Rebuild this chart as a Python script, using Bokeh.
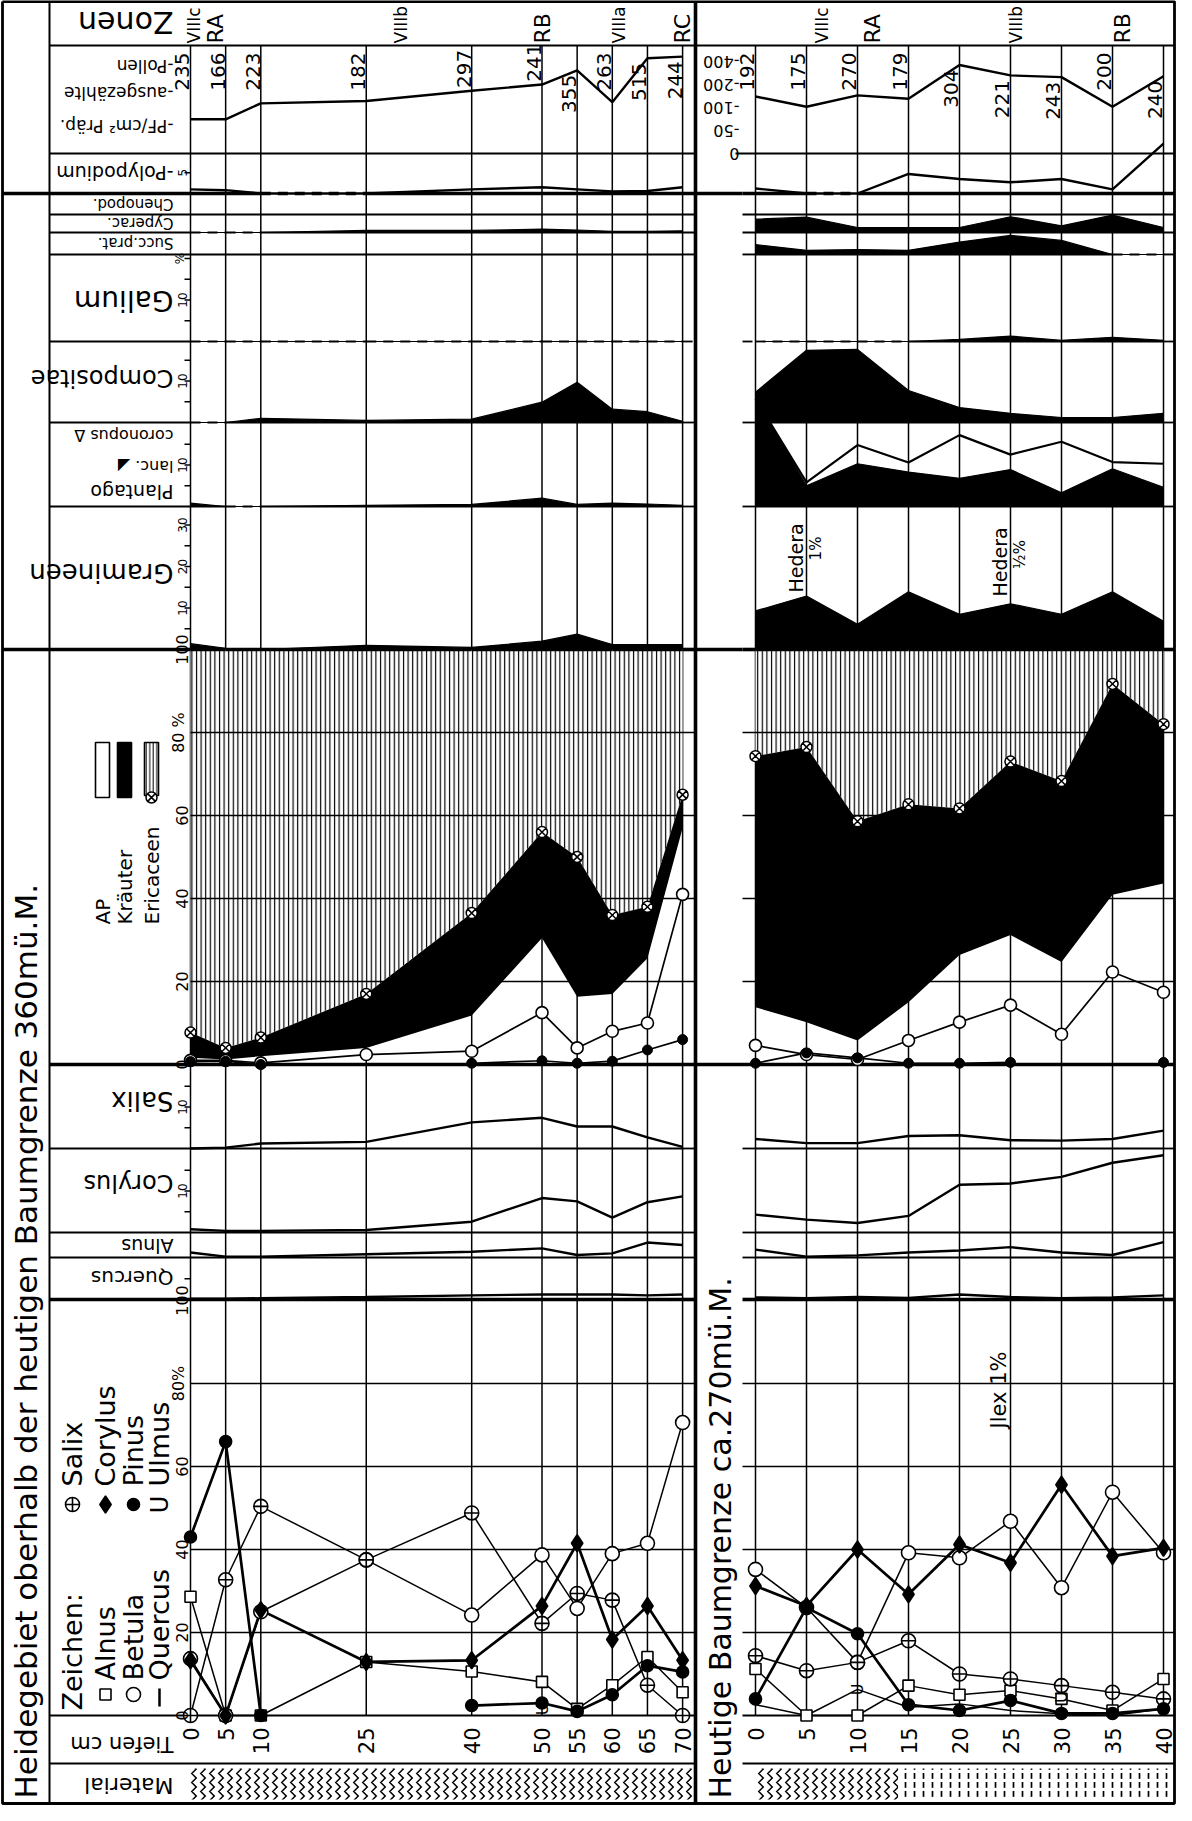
import numpy as np
from bokeh.plotting import figure
from bokeh.models import Range1d, ColumnDataSource
from bokeh.core.properties import value
from bokeh.embed import file_html
from bokeh.resources import INLINE

nan = float("nan")

# ====================== DATA ======================
depth_L = [0, 5, 10, 25, 40, 50, 55, 60, 65, 70]
depth_R = [0, 5, 10, 15, 20, 25, 30, 35, 40]

zone_L = ["VIIIc", "RA", "VIIIb", "RB", "VIIIa", "RC"]
zone_L_depth = [0.5, 3.5, 30.0, 50.0, 61.0, 70.0]
zone_R = ["VIIIc", "RA", "VIIIb", "RB"]
zone_R_depth = [6.5, 11.5, 25.5, 36.0]

count_L = [235, 166, 223, 182, 297, 241, 355, 263, 515, 244]
count_R = [192, 175, 270, 179, 304, 221, 243, 200, 240]

pf_L = [75, 75, 120, 130, 175, 205, 330, 125, 470, 500]
pf_R = [150, 105, 155, 140, 376, 285, 270, 105, 277]
pf_ticks = [0, 50, 100, 200, 400, 800]
pf_tick_labels = ["0", "-50", "-100", "-200", "-400"]

polypodium_L = [1.0, 0.8, 0.0, 0.0, 1.0, 1.5, 1.0, 0.5, 0.6, 1.5]
polypodium_R = [1.2, 0.0, 0.0, 4.7, 3.5, 2.7, 3.5, 1.0, 12.0]
cyperac_L = [0.0, 0.0, 0.0, 0.5, 0.5, 0.8, 0.6, 0.3, 0.3, 0.4]
cyperac_R = [3.2, 3.7, 1.2, 1.2, 1.2, 3.8, 1.6, 4.2, 1.2]
succ_R = [2.4, 1.0, 1.2, 1.0, 3.0, 4.6, 3.4, 0.0, 0.0]
galium_L = [0, 0, 0, 0, 0, 0, 0, 0, 0, 0]
galium_R = [0.0, 0.0, 0.0, 0.0, 0.5, 1.3, 0.3, 1.0, 0.3]
compositae_L = [0.0, 0.0, 1.0, 0.5, 0.8, 4.9, 9.7, 3.2, 2.6, 0.3]
compositae_R = [7.3, 17.4, 17.6, 7.7, 3.6, 2.2, 1.2, 1.2, 2.2]
lanc_L = [0.8, 0.0, 0.0, 0.3, 0.5, 2.0, 0.5, 0.8, 0.6, 0.3]
lanc_R = [26.0, 5.0, 10.3, 8.3, 6.8, 8.9, 3.3, 9.1, 4.6]
coronopus_R = [0.0, 0.8, 4.5, 2.3, 10.4, 3.6, 12.3, 1.6, 5.7]
gramineen_L = [1.4, 0.3, 0.0, 1.0, 0.5, 2.0, 3.7, 1.2, 1.2, 1.2]
gramineen_R = [9.3, 12.9, 6.1, 13.9, 8.5, 11.0, 8.5, 13.9, 6.8]

ap_L = [1.6, 1.2, 2.0, 4.0, 11.8, 30.5, 16.3, 17.0, 25.6, 57.0]
kraeuter_L = [6.1, 2.8, 4.5, 13.0, 24.7, 25.5, 33.7, 19.0, 12.4, 8.0]
ap_R = [13.8, 10.2, 5.8, 15.0, 26.4, 31.2, 24.7, 40.9, 43.6]
kraeuter_R = [60.5, 66.3, 52.8, 47.7, 35.3, 41.8, 43.6, 50.8, 38.4]
betula_total_L = [1.0, 1.0, 0.4, 2.4, 3.2, 12.5, 4.0, 8.0, 10.0, 41.0]
pinus_total_L = [0.7, 0.8, 0.0, nan, 0.3, 0.9, 0.3, 0.8, 3.5, 6.0]
betula_total_R = [4.6, 2.4, 1.2, 5.8, 10.2, 14.3, 7.3, 22.3, 17.4]
pinus_total_R = [0.3, 2.8, 1.6, 0.3, 0.3, 0.5, nan, nan, 0.5]

salix_total_L = [0.0, 0.2, 1.2, 1.6, 6.3, 7.4, 5.3, 5.3, 2.7, 0.4]
corylus_total_L = [0.8, 0.4, 0.4, 0.6, 2.6, 8.3, 7.5, 3.6, 7.3, 8.7]
alnus_total_L = [1.2, 0.2, 0.2, 0.8, 1.4, 2.2, 0.6, 1.0, 3.6, 3.0]
quercus_total_L = [0.2, 0.2, 0.3, 0.6, 1.0, 1.2, 1.2, 1.2, 1.0, 1.2]
salix_total_R = [2.3, 1.3, 1.3, 3.0, 3.2, 2.0, 1.9, 2.3, 4.3]
corylus_total_R = [4.3, 3.1, 2.3, 4.0, 11.5, 11.8, 13.4, 16.8, 18.6]
alnus_total_R = [1.9, 0.2, 0.5, 1.2, 1.7, 2.5, 1.2, 0.6, 3.7]
quercus_total_R = [0.5, 0.3, 0.6, 0.4, 1.2, 0.6, 0.3, 0.5, 1.0]

alnus_L = [28.6, 0.0, 0.0, 12.9, 10.6, 8.1, 1.6, 7.3, 14.1, 5.6]
betula_L = [13.7, 0.0, 25.0, 37.5, 24.2, 38.7, 25.8, 39.0, 41.5, 70.6]
salix_L = [0.0, 32.7, 50.4, 37.5, 48.8, 22.2, 29.4, 27.8, 7.3, 0.0]
corylus_L = [13.3, 0.0, 25.4, 12.9, 13.3, 26.4, 41.5, 18.3, 26.4, 13.3]
pinus_L = [43.0, 66.0, 0.0, nan, 2.4, 3.0, 1.0, 5.0, 12.0, 10.5]
ulmus_L = [nan, nan, nan, nan, nan, 1.5, nan, nan, nan, nan]

alnus_R = [11.2, 0.0, 0.0, 7.2, 5.0, 6.0, 4.0, 1.2, 8.8]
betula_R = [35.2, 26.0, 12.8, 39.2, 38.0, 46.8, 30.8, 53.8, 39.2]
quercus_R = [2.6, 0.0, 6.3, 2.0, 2.8, 1.2, 0.4, 0.0, 1.6]
salix_R = [14.4, 10.8, 12.8, 18.0, 10.0, 8.8, 7.2, 5.6, 4.0]
corylus_R = [31.2, 26.4, 40.0, 29.2, 41.2, 36.8, 55.6, 38.4, 40.4]
pinus_R = [4.0, 26.0, 19.7, 2.6, 1.2, 3.6, 0.5, 0.5, 1.6]
ulmus_R = [nan, nan, 6.3, nan, nan, nan, 4.4, nan, nan]

material_change_R = 14.0

ap_ticks = [0, 20, 40, 60, 80, 100]
ap_tick_labels = ["0", "20", "40", "60", "80 %", "100"]
tree_tick_labels = ["0", "20", "40", "60", "80%", "100"]

# ====================== LAYOUT (page pixels) ======================
W, H = 1176, 1805
XL, XRt = 8, 8 + W
YT, YB = 8, 8 + H
X_BL, X_BR = 10, 1182
Y_BT, Y_BB = 9, 1811
X_STRIP = 57
X_DIV = 703
X_RLAB = 750
X0 = {"L": 198.0, "R": 763.0}
KX = {"L": 7.03, "R": 10.2}
K = 4.15
Y_ZON = 53
Y_DROW = 1771
ROWS = {"pf": (161, 22.8), "poly": (201, K), "chen": (222, K), "cyp": (240, K),
        "succ": (262, K), "gal": (349, K), "comp": (430, K), "plan": (514, K),
        "gram": (657, K), "ap": (1072, K), "sal": (1156, K), "cor": (1240, K),
        "aln": (1265, K), "que": (1307, K), "tree": (1723, K)}
FONT = "DejaVu Sans"
LW = 1.5

p = figure(width=W, height=H, x_range=Range1d(XL, XRt), y_range=Range1d(YB, YT),
           x_axis_location=None, y_axis_location=None, toolbar_location=None,
           output_backend="svg", min_border=0, outline_line_color=None,
           background_fill_color="white", border_fill_color="white")
p.grid.visible = False


def xr(x0, k):
    return Range1d((XL - x0) / k, (XRt - x0) / k)


p.extra_x_ranges = {s: xr(X0[s], KX[s]) for s in ("L", "R")}
p.extra_y_ranges = {n: Range1d((yb - YB) / k, (yb - YT) / k) for n, (yb, k) in ROWS.items()}


def dpx(side, X):
    return (X - X0[side]) / KX[side]


EXT = {"L": (dpx("L", X_STRIP), dpx("L", X_DIV)), "R": (dpx("R", X_RLAB), dpx("R", X_BR))}
DEP = {"L": depth_L, "R": depth_R}


def T(x, y, t, size, angle=0.0, align="center", baseline="middle", xname="default", yname="default"):
    n = len(t)
    sizes = size if isinstance(size, (list, tuple)) else [size] * n
    src = ColumnDataSource(dict(x=list(x), y=list(y), t=[str(s) for s in t],
                                s=["%dpx" % s for s in sizes]))
    p.text(x="x", y="y", text="t", text_font_size="s", source=src, angle=angle,
           text_align=align, text_baseline=baseline, text_font=value(FONT),
           text_color="black", x_range_name=xname, y_range_name=yname)


def A(v):
    return np.array(v, dtype=float)


UP = np.pi / 2
FLIP = np.pi

# ---------------- material row ----------------
p.quad(left=[depth_L[0]], right=[EXT["L"][1] - 0.3], top=[Y_DROW + 5], bottom=[Y_BB - 4],
       x_range_name="L", fill_color="white", line_color=None, hatch_pattern="vertical_wave",
       hatch_scale=9, hatch_weight=1.5, hatch_color="black")
p.quad(left=[depth_R[0]], right=[material_change_R], top=[Y_DROW + 5], bottom=[Y_BB - 4],
       x_range_name="R", fill_color="white", line_color=None, hatch_pattern="vertical_wave",
       hatch_scale=9, hatch_weight=1.5, hatch_color="black")
p.quad(left=[material_change_R], right=[EXT["R"][1] - 0.3], top=[Y_DROW + 5], bottom=[Y_BB - 4],
       x_range_name="R", fill_color="white", line_color=None, hatch_pattern="vertical_dash",
       hatch_scale=9, hatch_weight=1.7, hatch_color="black")

# ---------------- depth lines ----------------
for s in ("L", "R"):
    d = DEP[s]
    p.segment(x0=d, y0=Y_ZON, x1=d, y1=ROWS["tree"][0], x_range_name=s,
              line_color="black", line_width=LW)

# ---------------- AP / Kräuter / Ericaceen ----------------
AP = {"L": (ap_L, kraeuter_L, betula_total_L, pinus_total_L),
      "R": (ap_R, kraeuter_R, betula_total_R, pinus_total_R)}
GRID_X = {"L": (X0["L"], X_DIV), "R": (X_RLAB, X_BR)}
for s in ("L", "R"):
    ap, kr, bt, pt = AP[s]
    d = A(DEP[s])
    top = A(ap) + A(kr)
    p.varea(x=d, y1=top, y2=np.full(len(d), 100.0), x_range_name=s, y_range_name="ap",
            fill_color="white", hatch_pattern="vertical_line", hatch_scale=4.6,
            hatch_weight=1.2, hatch_color="black")
for s in ("L", "R"):
    g = ap_ticks[1:-1]
    x0, x1 = GRID_X[s]
    p.segment(x0=[x0] * len(g), y0=g, x1=[x1] * len(g), y1=g, y_range_name="ap",
              line_color="black", line_width=1.4)
    p.segment(x0=[x0] * len(g), y0=g, x1=[x1] * len(g), y1=g, y_range_name="tree",
              line_color="black", line_width=1.4)
for s in ("L", "R"):
    ap, kr, bt, pt = AP[s]
    d = A(DEP[s])
    top = A(ap) + A(kr)
    p.varea(x=d, y1=A(ap), y2=top, x_range_name=s, y_range_name="ap", fill_color="black")

# ---------------- small taxa rows ----------------
FILLED = [("cyp", cyperac_L, cyperac_R), ("succ", None, succ_R), ("gal", galium_L, galium_R),
          ("comp", compositae_L, compositae_R), ("plan", lanc_L, lanc_R),
          ("gram", gramineen_L, gramineen_R)]
LINES = [("poly", polypodium_L, polypodium_R), ("sal", salix_total_L, salix_total_R),
         ("cor", corylus_total_L, corylus_total_R), ("aln", alnus_total_L, alnus_total_R),
         ("que", quercus_total_L, quercus_total_R)]

for name, vl, vr in FILLED:
    for s, v in (("L", vl), ("R", vr)):
        if v is None:
            continue
        d = A(DEP[s])
        p.varea(x=d, y1=np.zeros(len(d)), y2=A(v), x_range_name=s, y_range_name=name,
                fill_color="black")
        p.line(d, A(v), x_range_name=s, y_range_name=name, line_color="black", line_width=1.2)

# coronopus (stacked on lanceolata)
d = A(depth_R)
p.line(d, A(lanc_R) + A(coronopus_R), x_range_name="R", y_range_name="plan",
       line_color="black", line_width=2.2)

for name, vl, vr in LINES:
    for s, v in (("L", vl), ("R", vr)):
        p.line(A(DEP[s]), A(v), x_range_name=s, y_range_name=name, line_color="black",
               line_width=2.4)

# pollen frequency curve (stepped scale 0-50-100-200-400)
PFI = np.arange(len(pf_ticks), dtype=float)
for s, v in (("L", pf_L), ("R", pf_R)):
    idx = np.interp(A(v), A(pf_ticks), PFI)
    p.line(A(DEP[s]), idx, x_range_name=s, y_range_name="pf", line_color="black", line_width=2.4)

# ---------------- baselines ----------------
THICK = {"poly": 3.4, "gram": 3.6, "que": 3.6}


def baseline(side, name, vals):
    dd = list(DEP[side])
    lo, hi = EXT[side]
    xs0 = [lo] + dd
    xs1 = dd + [hi]
    if vals is None:
        styles = ["solid"] * len(xs0)
    else:
        seg = ["dashed" if (vals[i] == 0 and vals[i + 1] == 0) else "solid"
               for i in range(len(dd) - 1)]
        styles = [("solid" if side == "L" else seg[0])] + seg + [seg[-1]]
    w = THICK.get(name, 1.8)
    for st in ("solid", "dashed"):
        ii = [i for i, sv in enumerate(styles) if sv == st]
        if not ii:
            continue
        p.segment(x0=[xs0[i] for i in ii], y0=0, x1=[xs1[i] for i in ii], y1=0,
                  x_range_name=side, y_range_name=name, line_color="black", line_width=w,
                  line_dash="solid" if st == "solid" else "10 7")


for name, vl, vr in FILLED + LINES:
    baseline("L", name, vl)
    baseline("R", name, vr)
baseline("L", "chen", None)
baseline("R", "chen", None)

# ---------------- frame / structural lines ----------------
HL = [  # (y, x0, x1, width)
    (Y_ZON, X_STRIP, X_DIV, 1.8), (Y_ZON, X_DIV, X_BR, 1.8),
    (ROWS["pf"][0], X_STRIP, X_DIV, 1.8), (ROWS["pf"][0], 743, X_BR, 1.8),
    (ROWS["poly"][0], X_BL, X_STRIP, 3.4), (ROWS["poly"][0], X_DIV, X_RLAB, 3.4),
    (ROWS["gram"][0], X_BL, X_STRIP, 3.6), (ROWS["gram"][0], X_DIV, X_RLAB, 3.6),
    (ROWS["ap"][0], X_STRIP, X_BR, 3.6),
    (ROWS["tree"][0], X_STRIP, X_DIV, 2.0), (ROWS["tree"][0], X_RLAB, X_BR, 2.0),
    (Y_DROW, X_STRIP, X_DIV, 1.8), (Y_DROW, X_RLAB, X_BR, 1.8),
]
p.segment(x0=[h[1] for h in HL], y0=[h[0] for h in HL], x1=[h[2] for h in HL],
          y1=[h[0] for h in HL], line_color="black", line_width=[h[3] for h in HL])
p.segment(x0=[X_STRIP, X_DIV], y0=[Y_BT, Y_BT], x1=[X_STRIP, X_DIV], y1=[Y_BB, Y_BB],
          line_color="black", line_width=[2.0, 3.6])
p.line([X_BL, X_BR, X_BR, X_BL, X_BL], [Y_BT, Y_BT, Y_BB, Y_BB, Y_BT],
       line_color="black", line_width=2.8)

# ---------------- AP markers ----------------
for s in ("L", "R"):
    ap, kr, bt, pt = AP[s]
    d = A(DEP[s])
    top = A(ap) + A(kr)
    p.line(d, A(bt), x_range_name=s, y_range_name="ap", line_color="black", line_width=1.7)
    p.line(d, A(pt), x_range_name=s, y_range_name="ap", line_color="black", line_width=1.7)
    p.scatter(d, A(bt), x_range_name=s, y_range_name="ap", marker="circle", size=12,
              fill_color="white", line_color="black", line_width=1.6)
    p.scatter(d, A(pt), x_range_name=s, y_range_name="ap", marker="circle", size=10,
              fill_color="black", line_color="black")
    p.scatter(d, top, x_range_name=s, y_range_name="ap", marker="circle_x", size=11,
              fill_color="white", line_color="black", line_width=1.5)

# ---------------- tree pollen diagram ----------------
TREES = {"L": dict(alnus=alnus_L, betula=betula_L, salix=salix_L, corylus=corylus_L,
                   pinus=pinus_L, ulmus=ulmus_L, quercus=None),
         "R": dict(alnus=alnus_R, betula=betula_R, salix=salix_R, corylus=corylus_R,
                   pinus=pinus_R, ulmus=ulmus_R, quercus=quercus_R)}
STY = {"alnus": ("square", 11, "white", 1.5), "betula": ("circle", 14, "white", 1.5),
       "salix": ("circle_cross", 14, "white", 1.5), "corylus": ("diamond", 17, "black", 2.7),
       "pinus": ("circle", 12, "black", 2.7)}
for s in ("L", "R"):
    d = A(DEP[s])
    tr = TREES[s]
    if tr["quercus"] is not None:
        p.line(d, A(tr["quercus"]), x_range_name=s, y_range_name="tree", line_color="black",
               line_width=1.5)
    for key in ("alnus", "betula", "salix", "corylus", "pinus"):
        p.line(d, A(tr[key]), x_range_name=s, y_range_name="tree", line_color="black",
               line_width=STY[key][3])
    for key in ("alnus", "betula", "salix", "corylus", "pinus"):
        mk, sz, fc, lw = STY[key]
        p.scatter(d, A(tr[key]), x_range_name=s, y_range_name="tree", marker=mk, size=sz,
                  fill_color=fc, line_color="black", line_width=1.6)
    u = A(tr["ulmus"])
    ok = ~np.isnan(u)
    T(d[ok], u[ok], ["U"] * int(ok.sum()), 16, angle=UP, xname=s, yname="tree")

# ---------------- texts ----------------
# titles
T([33], [1806], ["Heidegebiet oberhalb der heutigen Baumgrenze   360mü.M."], 31,
  angle=UP, align="left")
T([728], [1806], ["Heutige Baumgrenze  ca.270mü.M."], 30, angle=UP, align="left")

# label column (upside down)
lab_t = ["Zonen", "-Pollen", "-ausgezählte", "-PF/cm² Präp.", "-Polypodium", "Chenopod.",
         "Cyperac.", "Succ.prat.", "Galium", "Compositae", "coronopus Δ", "lanc. ◢",
         "Plantago", "Gramineen", "Salix", "Corylus", "Alnus", "Quercus", "Tiefen cm",
         "Material"]
lab_y = [30, 73, 100, 133, 180, 211, 230, 250, 308, 385, 443, 474, 499, 580, 1108, 1190,
         1253, 1285, 1751, 1793]
lab_s = [30, 17, 17, 17, 19, 15, 15, 15, 28, 24, 16, 16, 19, 26, 26, 24, 19, 20, 21, 22]
T([181] * len(lab_t), lab_y, lab_t, lab_s, angle=FLIP, align="left")

# row scale ticks (left panel)
TICKS = {"poly": ([5], ["5"]), "gal": ([5, 10, 15, 20], ["", "10", "", "%"]),
         "comp": ([5, 10, 15], ["", "10", ""]), "plan": ([5, 10, 15], ["", "10", ""]),
         "gram": ([5, 10, 15, 20, 25, 30], ["", "10", "", "20", "", "30"]),
         "sal": ([5, 10, 15], ["", "10", ""]), "cor": ([5, 10, 15], ["", "10", ""]),
         "que": ([5], [""])}
for name, (tv, tl) in TICKS.items():
    x1 = X0["L"]
    p.segment(x0=[x1 - 6] * len(tv), y0=tv, x1=[x1] * len(tv), y1=tv, y_range_name=name,
              line_color="black", line_width=1.5)
    T([x1 - 4] * len(tv), tv, tl, 12, angle=UP, baseline="bottom", yname=name)

T([X0["L"] - 3] * len(ap_ticks), ap_ticks, ap_tick_labels, 16, angle=UP, baseline="bottom",
  yname="ap")
T([X0["L"] - 3] * len(ap_ticks), ap_ticks, tree_tick_labels, 16, angle=UP, baseline="bottom",
  yname="tree")

# pollen frequency scale (right panel, upside down)
nt = len(pf_tick_labels)
T([747] * nt, list(PFI[:nt]), pf_tick_labels, 16, angle=FLIP, align="left", yname="pf")

# zones
for s, zl, zd in (("L", zone_L, zone_L_depth), ("R", zone_R, zone_R_depth)):
    T(zd, [51] * len(zl), zl, [22 if z.startswith("R") else 17 for z in zl], angle=UP,
      align="left", xname=s)

# pollen counts
for s, cnt, pf in (("L", count_L, pf_L), ("R", count_R, pf_R)):
    idx = np.interp(A(pf), A(pf_ticks), PFI)
    d = A(DEP[s])
    below = idx > 3.1
    above = ~below
    T(d[above] - 0.15, np.maximum(idx[above] + 0.12, 2.75), [str(c) for c, a in zip(cnt, above) if a],
      20, angle=UP, align="left", baseline="bottom", xname=s, yname="pf")
    T(d[below] - 0.15, idx[below] - 0.2, [str(c) for c, b in zip(cnt, below) if b],
      20, angle=UP, align="right", baseline="bottom", xname=s, yname="pf")

# depth labels
for s in ("L", "R"):
    d = DEP[s]
    T(d, [1735] * len(d), [str(v) for v in d], 21, angle=UP, align="right", xname=s)

# annotations
T([5, 25], [600, 604], ["Hedera", "Hedera"], 19, angle=UP, align="left", baseline="bottom", xname="R")
T([5, 25], [556, 562], ["1%", "½%"], 15, angle=UP, align="center", baseline="top", xname="R")
T([25], [1436], ["Jlex    1%"], 21, angle=UP, align="left", baseline="bottom", xname="R")

# AP legend
p.quad(left=[103, 125], right=[117, 139], top=[750, 750], bottom=[805, 805],
       fill_color=["white", "black"], line_color="black", line_width=1.6)
p.quad(left=[152], right=[166], top=[750], bottom=[803], fill_color="white",
       line_color="black", line_width=1.6, hatch_pattern="vertical_line", hatch_scale=3.5,
       hatch_weight=1, hatch_color="black")
p.scatter([159], [805], marker="circle_x", size=11, fill_color="white", line_color="black",
          line_width=1.5)
T([110, 132, 159], [932, 932, 932], ["AP", "Kräuter", "Ericaceen"], 20, angle=UP, align="left")

# tree legend ("Zeichen")
T([80], [1718], ["Zeichen:"], 27, angle=UP, align="left")
leg_x = [113, 141, 80, 113, 141]
leg_y = [1702, 1702, 1512, 1512, 1512]
leg_k = ["alnus", "betula", "salix", "corylus", "pinus"]
for x, y, k in zip(leg_x, leg_y, leg_k):
    mk, sz, fc, lw = STY[k]
    p.scatter([x], [y], marker=mk, size=sz, fill_color=fc, line_color="black", line_width=1.6)
p.segment(x0=[167], y0=[1714], x1=[167], y1=[1696], line_color="black", line_width=2.5)
T([167], [1512], ["U"], 24, angle=UP)
T([113, 141, 167], [1688, 1688, 1688], ["Alnus", "Betula", "Quercus"], 27, angle=UP, align="left")
T([80, 113, 141, 167], [1494, 1494, 1494, 1494], ["Salix", "Corylus", "Pinus", "Ulmus"], 27,
  angle=UP, align="left")

open("out.html", "w").write(file_html(p, INLINE))
